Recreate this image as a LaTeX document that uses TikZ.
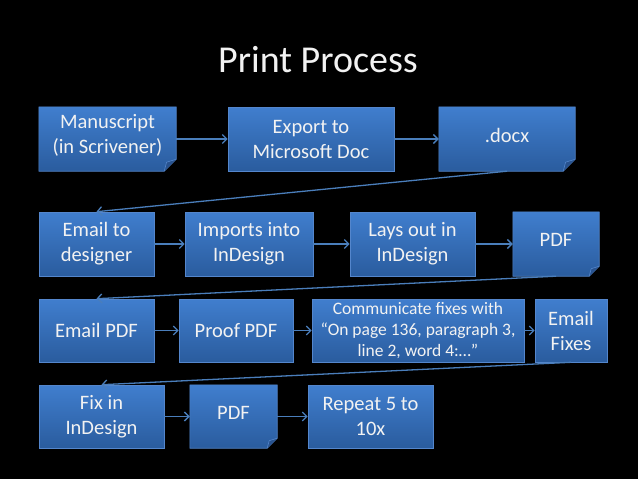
\documentclass[tikz,border=0pt]{standalone}
\usepackage{fontspec}
\setmainfont{Carlito}
\usetikzlibrary{arrows.meta,calc,backgrounds}
\definecolor{topblue}{RGB}{64,126,206}
\definecolor{botblue}{RGB}{42,92,158}
\definecolor{edgeblue}{RGB}{84,134,204}
\definecolor{arrowblue}{RGB}{74,126,187}
\definecolor{txt}{RGB}{242,242,242}
\definecolor{folddark}{RGB}{40,82,142}
\newcommand\foldshape[2][11pt]{%
  \shade[top color=topblue,bottom color=botblue,draw=edgeblue,line width=0.6pt]
    (#2.north west) -- (#2.north east) -- ($(#2.south east)+(0,#1)$)
    -- ($(#2.south east)+(-#1,0)$) -- (#2.south west) -- cycle;
  \filldraw[fill=folddark,draw=edgeblue,line width=0.6pt,line join=round]
    ($(#2.south east)+(-#1,0)$) -- ($(#2.south east)+(-0.8*#1,0.75*#1)$)
    -- ($(#2.south east)+(0,#1)$);
}
\begin{document}
\begin{tikzpicture}[x=1pt,y=-1pt,
  box/.style={draw=edgeblue,line width=0.6pt,top color=topblue,bottom color=botblue,
    text=txt,font=\fontsize{20.5}{25}\selectfont,align=center,inner sep=0pt},
  shapebox/.style={inner sep=0pt},
  lbl/.style={text=txt,font=\fontsize{20.5}{25}\selectfont,align=center,inner sep=0pt},
  conn/.style={draw=arrowblue,line width=1.3pt,-{Straight Barb[length=4.5pt,width=9pt]}}]
\begin{scope}[on background layer]
  \fill[black] (0,0) rectangle (638,479);
\end{scope}
\useasboundingbox (0,0) rectangle (638,479);

% title
\node[text=txt,font=\fontsize{38}{44}\selectfont,anchor=base] (title) at (318,72) {Print Process};

% row 1
\node[shapebox,minimum width=137pt,minimum height=64pt] (man) at (107.5,139) {};
\node[lbl] (mant) at (107.5,135) {Manuscript\\(in Scrivener)};
\node[box,minimum width=166pt,minimum height=64pt] (exp) at (311,139) {Export to\\Microsoft Doc};
\node[shapebox,minimum width=136pt,minimum height=64pt] (docx) at (507,139) {};
\node[lbl] (docxt) at (507,135) {.docx};

% row 2
\node[box,minimum width=115pt,minimum height=64pt] (em) at (96.5,244) {Email to\\designer};
\node[box,minimum width=128pt,minimum height=64pt] (imp) at (249,244) {Imports into\\InDesign};
\node[box,minimum width=125pt,minimum height=64pt] (lay) at (412.5,244) {Lays out in\\InDesign};
\node[shapebox,minimum width=86pt,minimum height=64pt] (pdfa) at (556,244) {};
\node[lbl] (pdfat) at (556,239.5) {PDF};

% row 3
\node[box,minimum width=115pt,minimum height=63pt] (empdf) at (96.5,330.5) {Email PDF};
\node[box,minimum width=114pt,minimum height=63pt] (proof) at (236,330.5) {Proof PDF};
\node[box,minimum width=212pt,minimum height=63pt,font=\fontsize{17.5}{21}\selectfont] (comm) at (418,330.5)
  {Communicate fixes with\\``On page 136, paragraph 3,\\line 2, word 4:\dots''};
\node[box,minimum width=72pt,minimum height=63pt] (emfix) at (571,330.5) {Email\\Fixes};

% row 4
\node[box,minimum width=125pt,minimum height=63pt] (fix) at (101.5,416.5) {Fix in\\InDesign};
\node[shapebox,minimum width=87pt,minimum height=63pt] (pdfb) at (233.5,416.5) {};
\node[lbl] (pdfbt) at (233.5,412.5) {PDF};
\node[box,minimum width=125pt,minimum height=63pt] (rep) at (370.5,416.5) {Repeat 5 to\\10x};

\begin{scope}[on background layer]
  \foldshape[12pt]{man}
  \foldshape[12pt]{docx}
  \foldshape[10pt]{pdfa}
  \foldshape[10pt]{pdfb}
\end{scope}

% connectors
\draw[conn] (man) -- (exp);
\draw[conn] (exp) -- (docx);
\draw[conn] (docx.south) -- (em.north);
\draw[conn] (em) -- (imp);
\draw[conn] (imp) -- (lay);
\draw[conn] (lay) -- (pdfa);
\draw[conn] (pdfa.south) -- (empdf.north);
\draw[conn] (empdf) -- (proof);
\draw[conn] (proof) -- (comm);
\draw[conn] (comm) -- (emfix);
\draw[conn] (emfix.south) -- (fix.north);
\draw[conn] (fix) -- (pdfb);
\draw[conn] (pdfb) -- (rep);
\end{tikzpicture}
\end{document}
